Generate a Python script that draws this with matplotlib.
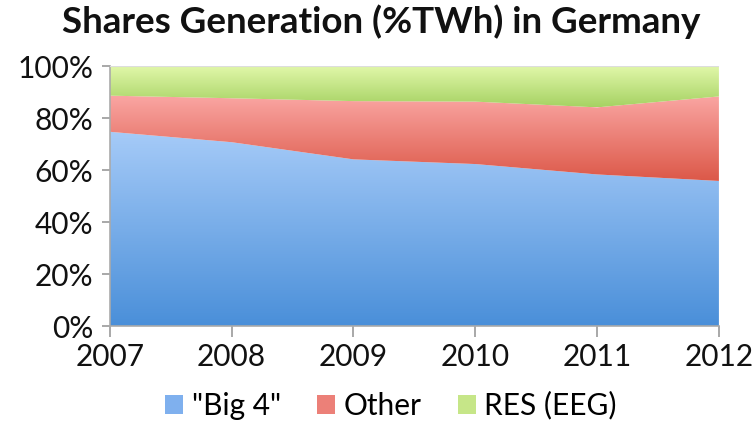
import numpy as np
import matplotlib.pyplot as plt
from matplotlib.colors import LinearSegmentedColormap
from matplotlib.patches import Patch

plt.rcParams['font.family'] = ['Lato', 'DejaVu Sans']

# data (shares in %)
years = [2007, 2008, 2009, 2010, 2011, 2012]
big4 = [74.7, 70.7, 64.1, 62.3, 58.3, 55.8]
other = [13.9, 16.9, 22.4, 24.0, 25.8, 32.5]
res = [11.4, 12.4, 13.5, 13.7, 15.9, 11.7]

labels = ['"Big 4"', 'Other', 'RES (EEG)']
# (top colour, bottom colour) for each band's gradient
grads = [('#a6cbf8', '#4a8fd9'), ('#faa6a3', '#dc5848'), ('#e2f8ab', '#a6d263')]

fig = plt.figure(figsize=(7.52, 4.43), dpi=100)
ax = fig.add_axes([0.146, 0.264, 0.81, 0.587])

x = np.array(years)
lower = np.zeros(len(years))
for vals, (ctop, cbot) in zip([big4, other, res], grads):
    upper = lower + np.array(vals)
    poly = ax.fill_between(x, lower, upper, color='none', lw=0)
    cmap = LinearSegmentedColormap.from_list('g', [cbot, ctop])
    grad = np.linspace(0, 1, 256).reshape(-1, 1)
    im = ax.imshow(grad, cmap=cmap, aspect='auto', origin='lower',
                   extent=[x[0], x[-1], lower.min(), upper.max()], zorder=1)
    im.set_clip_path(poly.get_paths()[0], transform=ax.transData)
    lower = upper

ax.set_xlim(years[0], years[-1])
ax.set_ylim(0, 100)
ax.set_xticks(years)
ax.set_yticks(range(0, 101, 20))
ax.set_yticklabels([f'{v}%' for v in range(0, 101, 20)])
ax.tick_params(axis='both', labelsize=21.5, colors='#999999', labelcolor='#111111',
               length=6, width=1.2, direction='out')
ax.tick_params(axis='x', pad=4, length=8)
ax.tick_params(axis='y', pad=6)
for s in ['top', 'right']:
    ax.spines[s].set_visible(False)
for s in ['left', 'bottom']:
    ax.spines[s].set_color('#aaaaaa')
    ax.spines[s].set_linewidth(1.2)
ax.axhline(100, color='#dddddd', lw=1.5, zorder=3)

fig.text(0.507, 0.95, 'Shares Generation (%TWh) in Germany', fontsize=26.5,
         fontweight='bold', ha='center', va='center', color='#111111')

handles = [Patch(facecolor=c, edgecolor='none') for c in ['#7fb0ee', '#ec8078', '#c6e688']]
fig.legend(handles, labels, loc='center', bbox_to_anchor=(0.52, 0.085), ncol=3,
           frameon=False, fontsize=21.5, handlelength=0.6, handleheight=0.6,
           handletextpad=0.3, columnspacing=1.2)

fig.savefig('out.png', dpi=100)
